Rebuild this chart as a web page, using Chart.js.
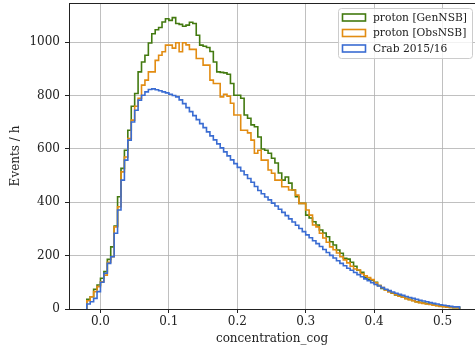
<!DOCTYPE html>
<html>
<head>
<meta charset="utf-8">
<script src="https://cdn.jsdelivr.net/npm/chart.js@4.4.0/dist/chart.umd.min.js"></script>
<style>
  html, body { margin: 0; padding: 0; background: #fff; }
</style>
</head>
<body>
<canvas id="hist" width="475" height="353"></canvas>
<script>
// histogram bins: first edge and bin width (109 bins)
const binStart = -0.02;
const binWidth = 0.005;

// events / h per bin
const genNSB = [
  27, 36, 46, 74, 90, 115, 140, 186, 233, 311,
  421, 527, 595, 670, 760, 808, 889, 926, 951, 997,
  1032, 1047, 1055, 1076, 1088, 1082, 1092, 1070, 1067, 1060,
  1064, 1075, 1070, 1026, 989, 985, 980, 965, 926, 889,
  887, 885, 880, 845, 801, 801, 790, 727, 715, 690,
  683, 645, 600, 595, 584, 565, 547, 510, 483, 495,
  472, 446, 421, 396, 396, 352, 341, 327, 315, 296,
  285, 271, 252, 240, 221, 209, 190, 187, 175, 160,
  145, 138, 118, 111, 108, 100, 88, 77, 72, 68,
  59, 53, 50, 44, 40, 36, 32, 27, 25, 22,
  20, 18, 15, 13, 11, 10, 8, 6, 5
];
const obsNSB = [
  27, 31, 46, 65, 84, 102, 127, 175, 196, 308,
  383, 514, 570, 639, 708, 760, 790, 839, 858, 889,
  889, 932, 951, 964, 989, 989, 978, 998, 964, 998,
  990, 973, 973, 939, 939, 914, 914, 858, 845, 845,
  795, 805, 798, 771, 727, 727, 670, 670, 660, 633,
  584, 595, 558, 558, 521, 509, 483, 483, 458, 458,
  446, 446, 427, 396, 396, 371, 352, 315, 308, 284,
  266, 250, 233, 222, 210, 196, 184, 173, 160, 150,
  146, 132, 124, 118, 110, 98, 88, 80, 71, 64,
  60, 54, 48, 44, 39, 35, 31, 26, 24, 21,
  19, 17, 14, 12, 10, 9, 7, 6, 5
];
const crab = [
  9, 19, 27, 40, 65, 100, 134, 171, 196, 284,
  371, 483, 558, 633, 701, 745, 783, 801, 814, 823,
  825, 822, 818, 814, 810, 805, 800, 795, 784, 770,
  755, 740, 725, 710, 695, 680, 664, 649, 634, 619,
  604, 589, 574, 559, 545, 531, 517, 503, 489, 475,
  459, 444, 432, 420, 409, 397, 386, 374, 362, 350,
  338, 326, 314, 302, 290, 278, 267, 256, 245, 234,
  223, 212, 201, 191, 181, 171, 162, 153, 145, 137,
  129, 121, 113, 106, 99, 92, 86, 80, 74, 69,
  64, 59, 55, 51, 47, 43, 40, 36, 33, 30,
  27, 24, 21, 19, 16, 14, 12, 10, 8
];

const xTicks = [0, 0.1, 0.2, 0.3, 0.4, 0.5];
const yTicks = [0, 200, 400, 600, 800, 1000];
const seriesLabels = ['proton [GenNSB]', 'proton [ObsNSB]', 'Crab 2015/16'];
const seriesColors = ['#437a10', '#e28c12', '#3a6cd2'];

// outline of a step histogram: up at the first edge, down at the last one
function stepPoints(counts) {
  const pts = [{x: binStart, y: 0}];
  counts.forEach((c, i) => pts.push({x: binStart + i * binWidth, y: c}));
  const end = binStart + counts.length * binWidth;
  pts.push({x: end, y: counts[counts.length - 1]});
  pts.push({x: end, y: 0});
  return pts;
}

// legend in a frame at the upper right, plus the top spine
const frameLegend = {
  id: 'frameLegend',
  afterDraw(chart) {
    const ctx = chart.ctx;
    const area = chart.chartArea;

    ctx.save();
    ctx.strokeStyle = '#222';
    ctx.lineWidth = 1;
    ctx.beginPath();
    ctx.moveTo(area.left, area.top + 0.5);
    ctx.lineTo(area.right, area.top + 0.5);
    ctx.stroke();

    ctx.font = '10.7px "DejaVu Serif"';
    const textW = Math.max(...seriesLabels.map(t => ctx.measureText(t).width));
    const w = 4 + 23 + 8 + textW + 5;
    const h = 50;
    const x0 = area.right - 3 - w;
    const y0 = area.top + 5;

    ctx.fillStyle = 'rgba(255,255,255,0.8)';
    ctx.strokeStyle = '#cccccc';
    ctx.beginPath();
    ctx.roundRect(x0 + 0.5, y0 + 0.5, w, h, 3);
    ctx.fill();
    ctx.stroke();

    seriesLabels.forEach((label, k) => {
      const cy = y0 + 9.5 + k * 15.5;
      ctx.strokeStyle = seriesColors[k];
      ctx.lineWidth = 1.6;
      ctx.strokeRect(x0 + 4.5, cy - 3.5, 23, 7);
      ctx.fillStyle = '#222';
      ctx.textBaseline = 'middle';
      ctx.textAlign = 'left';
      ctx.fillText(label, x0 + 35, cy + 0.5);
    });
    ctx.restore();
  }
};

Chart.defaults.font.family = '"DejaVu Serif", serif';
Chart.defaults.color = '#222';

const histChart = new Chart(document.getElementById('hist'), {
  type: 'line',
  data: {
    datasets: [genNSB, obsNSB, crab].map((counts, k) => ({
      label: seriesLabels[k],
      data: stepPoints(counts),
      stepped: 'after',
      borderColor: seriesColors[k],
      backgroundColor: 'rgba(0,0,0,0)',
      borderWidth: 1.6,
      pointRadius: 0,
      fill: false,
      order: 2 - k
    }))
  },
  options: {
    responsive: false,
    animation: false,
    layout: { padding: { top: 3, right: 0, left: 0, bottom: 0 } },
    plugins: { legend: { display: false }, tooltip: { enabled: false } },
    scales: {
      x: {
        type: 'linear',
        min: -0.046,
        max: 0.5475,
        afterBuildTicks: s => { s.ticks = xTicks.map(v => ({value: v})); },
        afterFit: s => { s.height = 44; s.paddingLeft = 0; s.paddingRight = 0; },
        ticks: { font: { size: 12 }, color: '#222', padding: 2, maxRotation: 0,
                 callback: v => v.toFixed(1) },
        grid: { color: '#b0b0b0', lineWidth: 0.8, tickColor: '#222', tickLength: 4, tickWidth: 1 },
        border: { color: '#222', width: 1 },
        title: { display: true, text: 'concentration_cog', font: { size: 12 }, color: '#222',
                 padding: { top: 0, bottom: 7 } }
      },
      y: {
        type: 'linear',
        min: 0,
        max: 1147,
        afterBuildTicks: s => { s.ticks = yTicks.map(v => ({value: v})); },
        afterFit: s => { s.width = 69; s.paddingTop = 0; s.paddingBottom = 0; },
        ticks: { font: { size: 12 }, color: '#222', padding: 5, callback: v => String(v) },
        grid: { color: '#b0b0b0', lineWidth: 0.8, tickColor: '#222', tickLength: 4, tickWidth: 1 },
        border: { color: '#222', width: 1 },
        title: { display: true, text: 'Events / h', font: { size: 12 }, color: '#222',
                 padding: { top: 9, bottom: 0 } }
      }
    }
  },
  plugins: [frameLegend]
});
</script>
</body>
</html>
